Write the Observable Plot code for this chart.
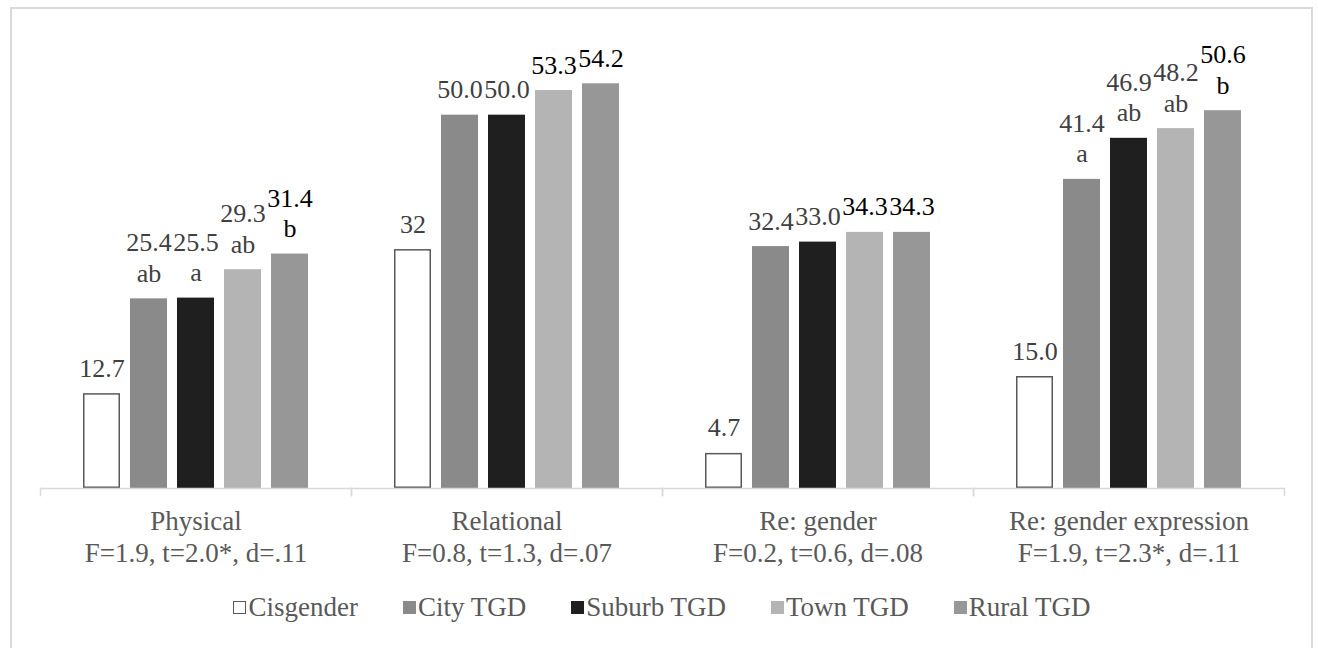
<!DOCTYPE html>
<html>
<head>
<meta charset="utf-8">
<script src="https://cdn.jsdelivr.net/npm/d3@7"></script>
<script src="https://cdn.jsdelivr.net/npm/@observablehq/plot@0.6"></script>
<style>
  html, body { margin: 0; padding: 0; background: #fff; overflow: hidden; width: 1318px; height: 648px; }
  #chart { position: relative; width: 1318px; height: 648px;
           font-family: "Liberation Serif", "DejaVu Serif Condensed", "DejaVu Serif", serif; }
  .border { position: absolute; left: 10px; top: 7px; width: 1303px; height: 700px; border: 2px solid #d9d9d9; box-sizing: border-box; }
  #plot { position: absolute; left: 0; top: 0; }
  .legend { position: absolute; left: 40px; width: 1244px; top: 592px; height: 30px; line-height: 30px;
            display: flex; justify-content: center; gap: 45px; font-size: 27px; color: #595959; }
  .legend .item { display: flex; align-items: center; white-space: nowrap; }
  .legend .sw { width: 13px; height: 13px; margin-right: 2px; box-sizing: border-box; }
</style>
</head>
<body>
<div id="chart">
  <div class="border"></div>
  <div id="plot"></div>
  <div class="legend" id="legend"></div>
</div>
<script>
// Violence categories and their test statistics
const categories = ["Physical", "Relational", "Re: gender", "Re: gender expression"];
const statistics = ["F=1.9, t=2.0*, d=.11", "F=0.8, t=1.3, d=.07", "F=0.2, t=0.6, d=.08", "F=1.9, t=2.3*, d=.11"];

// Groups compared within each category
const seriesNames = ["Cisgender", "City TGD", "Suburb TGD", "Town TGD", "Rural TGD"];
const seriesColors = ["#ffffff", "#8a8a8a", "#1f1f1f", "#b4b4b4", "#979797"];

// Percentages per group, one entry per category
const cisgender = [12.7, 32, 4.7, 15.0];
const cityTGD = [25.4, 50.0, 32.4, 41.4];
const suburbTGD = [25.5, 50.0, 33.0, 46.9];
const townTGD = [29.3, 53.3, 34.3, 48.2];
const ruralTGD = [31.4, 54.2, 34.3, 50.6];

// Decimal places shown in the cisgender labels
const cisgenderDigits = [1, 0, 1, 1];

// Post-hoc group letters
const cisgenderLetters = ["", "", "", ""];
const cityLetters = ["ab", "", "", "a"];
const suburbLetters = ["a", "", "", "ab"];
const townLetters = ["ab", "", "", "ab"];
const ruralLetters = ["b", "", "", "b"];

const seriesValues = [cisgender, cityTGD, suburbTGD, townTGD, ruralTGD];
const seriesLetters = [cisgenderLetters, cityLetters, suburbLetters, townLetters, ruralLetters];

const rows = seriesNames.flatMap((series, si) =>
  categories.map((category, ci) => ({
    category,
    series,
    value: seriesValues[si][ci],
    letter: seriesLetters[si][ci],
    digits: si === 0 ? cisgenderDigits[ci] : 1
  }))
);

const labelText = d => d.value.toFixed(d.digits) + (d.letter ? "\n" + d.letter : "");

// Labels printed in black rather than dark gray
const isDarkLabel = d =>
  d.series === "Rural TGD" ||
  (d.series === "Town TGD" && (d.category === "Relational" || d.category === "Re: gender"));

const W = 1318, H = 580, mTop = 40, mBottom = 92, mLeft = 40, mRight = 34;
const grid = "#d9d9d9";
const font = '"Liberation Serif", "DejaVu Serif Condensed", "DejaVu Serif", serif';

const labelOpts = {
  fx: "category", x: "series", y: "value", text: labelText,
  lineAnchor: "bottom", lineHeight: 1.17, dy: -17, fontSize: 26
};

const chart = Plot.plot({
  width: W,
  height: H,
  marginTop: mTop,
  marginBottom: mBottom,
  marginLeft: mLeft,
  marginRight: mRight,
  style: { fontFamily: font, fontSize: "27px", color: "#595959", background: "transparent" },
  fx: { domain: categories, padding: 0 },
  x: { domain: seriesNames, paddingInner: 0.22, paddingOuter: 0.85, axis: null },
  y: { domain: [0, 60], axis: null },
  color: { domain: seriesNames, range: seriesColors },
  marks: [
    Plot.barY(rows, { fx: "category", x: "series", y: "value", fill: "series" }),
    Plot.barY(rows.filter(d => d.series === "Cisgender"), {
      fx: "category", x: "series", y: "value", fill: "none", stroke: "#595959", strokeWidth: 1.5, inset: 0.75
    }),
    Plot.ruleY([0], { stroke: grid, strokeWidth: 1.5 }),
    // category boundary ticks hanging below the baseline
    Plot.frame({ anchor: "left", stroke: grid, strokeWidth: 1.5, insetTop: H - mTop - mBottom, insetBottom: -7 }),
    Plot.frame({ anchor: "right", stroke: grid, strokeWidth: 1.5, insetTop: H - mTop - mBottom, insetBottom: -7 }),
    Plot.text(rows.filter(d => !isDarkLabel(d)), { ...labelOpts, fill: "#404040" }),
    Plot.text(rows.filter(isDarkLabel), { ...labelOpts, fill: "#000000" }),
    Plot.axisFx({
      anchor: "bottom", tickSize: 0, tickPadding: 19, lineHeight: 1.18, fontSize: 27,
      fill: "#595959", label: null,
      tickFormat: c => c + "\n" + statistics[categories.indexOf(c)]
    })
  ]
});
document.getElementById("plot").appendChild(chart);

// Legend below the chart
const legend = d3.select("#legend");
seriesNames.forEach((name, i) => {
  const item = legend.append("div").attr("class", "item");
  item.append("div").attr("class", "sw")
    .style("background", seriesColors[i])
    .style("border", i === 0 ? "1.5px solid #595959" : "none");
  item.append("span").text(name);
});
</script>
</body>
</html>
